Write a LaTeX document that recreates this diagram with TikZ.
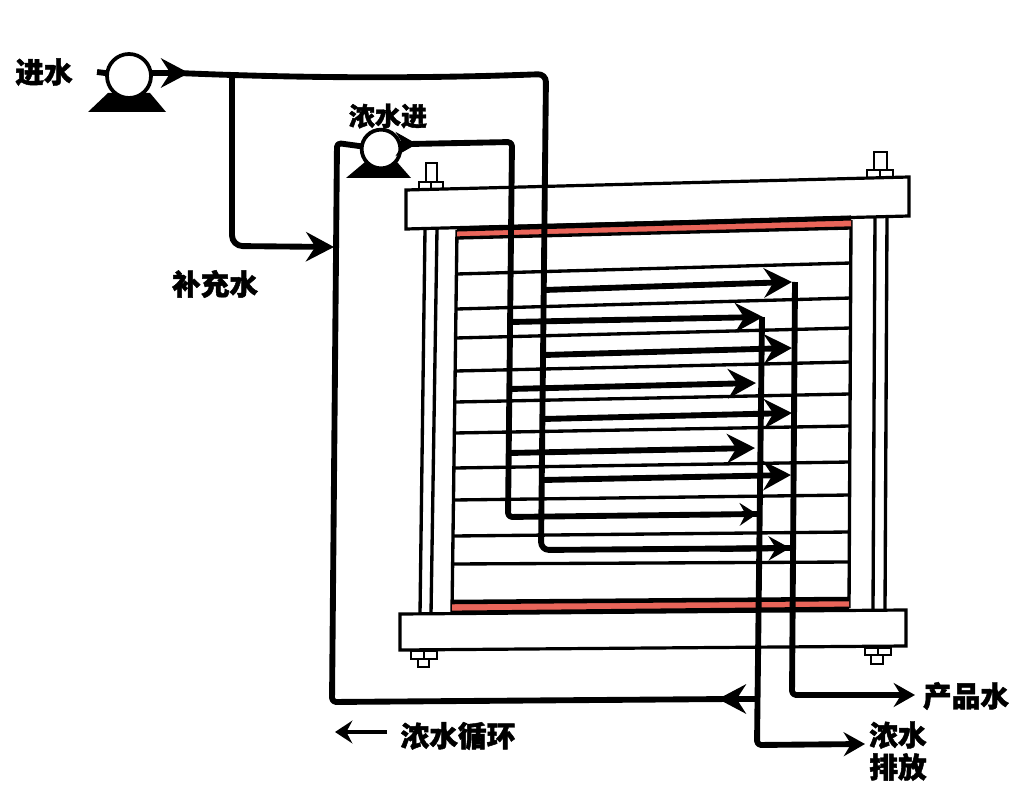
\documentclass[tikz,border=0pt]{standalone}
\usepackage{fontspec}
\usetikzlibrary{arrows.meta}
\newfontfamily\cjk{Noto Sans CJK SC}[BoldFeatures={FakeBold=1.6}]
\definecolor{band}{HTML}{E9655A}
\tikzset{
  x=0.75pt,y=-0.75pt,
  pipe/.style={line width=4.4pt,line join=round,rounded corners=3pt},
  thinpipe/.style={line width=3.6pt,line join=round,rounded corners=3pt},
  headbig/.style={-{Stealth[length=21pt,width=22pt,inset=7pt]}},
  headmid/.style={-{Stealth[length=16pt,width=18pt,inset=5.5pt]}},
  headsmall/.style={-{Stealth[length=13pt,width=17pt,inset=4.5pt]}},
  outline/.style={draw=black,line width=2.4pt,line join=miter},
  plate/.style={outline,fill=white},
  cell/.style={draw=black,line width=2.5pt},
  bolt/.style={draw=black,line width=2.2pt,fill=white},
  pumpbody/.style={circle,draw=black,line width=2.8pt,fill=white,inner sep=0pt,outer sep=0pt},
  lbl/.style={font=\cjk\bfseries\fontsize{21.5pt}{24pt}\selectfont,text=black,inner sep=0pt},
  lblb/.style={font=\cjk\bfseries\fontsize{19.5pt}{22pt}\selectfont,text=black,inner sep=0pt},
}
\begin{document}
\begin{tikzpicture}
\useasboundingbox (0,0) rectangle (1024,798);
\fill[white] (0,0) rectangle (1024,798);

% rods
\draw[cell] (425,229) -- (420,614) (437,229) -- (431,614);
\draw[cell] (875,216) -- (873,610) (887,216) -- (885,610);

% bolts
\draw[bolt] (426,163) rectangle (437,182);
\draw[bolt] (419,182) rectangle (443,190);
\draw[bolt,line width=1.4pt] (431,182) -- (431,190);
\draw[bolt] (874,152) rectangle (887,170);
\draw[bolt] (867,170) rectangle (893,178);
\draw[bolt,line width=1.4pt] (880,170) -- (880,178);
\draw[bolt] (418,659) rectangle (429,667);
\draw[bolt] (411,651) rectangle (437,659);
\draw[bolt,line width=1.4pt] (424,651) -- (424,659);
\draw[bolt] (871,655) rectangle (883,664);
\draw[bolt] (865,648) rectangle (891,655);
\draw[bolt,line width=1.4pt] (878,648) -- (878,655);

% frame with cell membranes
\draw[cell] (457,230) -- (452,612);
\draw[cell] (851,220) -- (849,608);
\draw[cell] (457,274) -- (851,263);
\draw[cell] (457,309) -- (851,298);
\draw[cell] (456,338) -- (851,328);
\draw[cell] (456,371) -- (850,362);
\draw[cell] (456,402) -- (850,394);
\draw[cell] (455,433) -- (850,426);
\draw[cell] (455,468) -- (850,462);
\draw[cell] (454,500) -- (850,495);
\draw[cell] (454,536) -- (850,532);
\draw[cell] (453,564) -- (850,562);

% red end bands
\fill[band] (457,229) -- (851,218) -- (851,227) -- (457,238) -- cycle;
\draw[cell] (457,238) -- (851,228);
\fill[band] (452,603) -- (849,600) -- (849,610) -- (452,614) -- cycle;
\draw[line width=3.4pt] (452,602) -- (849,599);
\draw[line width=3.6pt] (452,613) -- (849,609);

% end plates
\draw[plate] (406,190) -- (909,177) -- (909,216) -- (406,229) -- cycle;
\draw[line width=3.8pt] (457,229) -- (851,218);
\draw[plate] (400,614) -- (906,610) -- (906,646) -- (400,650) -- cycle;

% pumps
\fill (88,112) -- (108,93) -- (150,93) -- (166,112) -- cycle;
\node[pumpbody,minimum size=33pt] (pumpA) at (129,76) {};
\fill (346,178) -- (365,162) -- (397,162) -- (411,178) -- cycle;
\node[pumpbody,minimum size=29pt] (pumpB) at (381,149) {};

% named points
\coordinate (stub) at (97,72);
\coordinate (feedout) at (151,73);
\coordinate (feedtip) at (189,73);
\coordinate (feedjoin) at (178,73);
\coordinate (tee) at (232,74);
\coordinate (sag1) at (320,79);
\coordinate (sag2) at (440,78);
\coordinate (f2) at (546,74);
\coordinate (f3) at (541,550);
\coordinate (b1) at (232,246);
\coordinate (b2) at (334,247);
\coordinate (p2out) at (400,144);
\coordinate (p2tip) at (417,144);
\coordinate (p2join) at (410,144);
\coordinate (c1) at (512,142);
\coordinate (c2) at (508,517);
\coordinate (r0) at (757,699);
\coordinate (rtip) at (718,699);
\coordinate (rjoin) at (730,699);
\coordinate (r1) at (332,702);
\coordinate (r2) at (337,143);
\coordinate (a1s) at (544,290); \coordinate (a1t) at (792,282);
\coordinate (a2s) at (510,322); \coordinate (a2t) at (763,317);
\coordinate (a3s) at (544,355); \coordinate (a3t) at (792,348);
\coordinate (a4s) at (510,389); \coordinate (a4t) at (756,383);
\coordinate (a5s) at (543,419); \coordinate (a5t) at (792,413);
\coordinate (a6s) at (509,453); \coordinate (a6t) at (755,448);
\coordinate (a7s) at (543,480); \coordinate (a7t) at (791,475);
\coordinate (a8n) at (700,515); \coordinate (a8t) at (757,514);
\coordinate (a9n) at (720,549); \coordinate (a9t) at (790,548);
\coordinate (d1) at (795,282);
\coordinate (d2) at (792,695);
\coordinate (d3) at (915,695);
\coordinate (e1) at (762,317);
\coordinate (e2) at (757,745);
\coordinate (e3) at (865,744);
\coordinate (m1) at (387,732);
\coordinate (m2) at (335,732);

% feed circuit
\draw[pipe] (stub) -- (pumpA);
\draw[pipe,headbig] (feedout) -- (feedtip);
\draw[pipe,rounded corners=6pt] (feedjoin) .. controls (sag1) and (sag2) .. (f2) -- (f3) -- (a9t);
\draw[pipe,rounded corners=8pt,headbig] (tee) -- (b1) -- (b2);

% concentrate loop
\draw[pipe,headbig] (r0) -- (rtip);
\draw[pipe] (rjoin) -- (r1) -- (r2) -- (pumpB);
\draw[pipe,headmid] (p2out) -- (p2tip);
\draw[pipe] (p2join) -- (c1) -- (c2) -- (a8t);

% arrowheads of the two lowest channels
\draw[thinpipe,headsmall] (a8n) -- (a8t);
\draw[pipe,headmid] (a9n) -- (a9t);

% channels
\draw[pipe,headbig] (a1s) -- (a1t);
\draw[pipe,headbig] (a2s) -- (a2t);
\draw[pipe,headbig] (a3s) -- (a3t);
\draw[pipe,headbig] (a4s) -- (a4t);
\draw[pipe,headbig] (a5s) -- (a5t);
\draw[pipe,headbig] (a6s) -- (a6t);
\draw[pipe,headbig] (a7s) -- (a7t);

% outlets
\draw[pipe,headmid] (d1) -- (d2) -- (d3);
\draw[pipe,headmid] (e1) -- (e2) -- (e3);

% legend arrow
\draw[line width=2.4pt,headsmall] (m1) -- (m2);

% labels
\node[lbl] (tJin) at (44,72) {进水};
\node[lbl] (tBu) at (215,284) {补充水};
\node[lblb] (tNong) at (388,116) {浓水进};
\node[lbl] (tChan) at (966,696) {产品水};
\node[lbl] (tNs) at (898,735) {浓水};
\node[lbl] (tPai) at (898,767) {排放};
\node[lbl] (tXun) at (458,736) {浓水循环};
\end{tikzpicture}
\end{document}
